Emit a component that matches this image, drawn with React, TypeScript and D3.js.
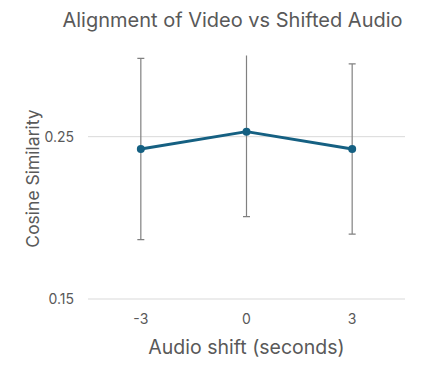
import React, { useEffect, useRef } from 'react';
import * as d3 from 'd3';

// chart data
const shifts = ['-3', '0', '3'];
const similarity = [0.2424, 0.2531, 0.2424];
const errors = [0.0558, 0.0524, 0.0524];
const yTicks = [0.15, 0.25];

const App = () => {
  const ref = useRef(null);

  useEffect(() => {
    const width = 423;
    const height = 380;
    const margin = { top: 55.5, right: 18, bottom: 81, left: 88 };
    const innerW = width - margin.left - margin.right;
    const innerH = height - margin.top - margin.bottom;

    const svg = d3.select(ref.current)
      .attr('width', width)
      .attr('height', height)
      .style('display', 'block')
      .style('position', 'absolute')
      .style('left', 0)
      .style('top', 0)
      .style('background', '#fff');
    svg.selectAll('*').remove();

    const font = 'Inter, "Open Sans", sans-serif';

    // title
    svg.append('text')
      .attr('x', 232.5)
      .attr('y', 27)
      .attr('text-anchor', 'middle')
      .style('font-family', font)
      .style('font-size', '20px')
      .style('fill', '#595959')
      .text('Alignment of Video vs Shifted Audio');

    const g = svg.append('g')
      .attr('transform', `translate(${margin.left},${margin.top})`);

    const x = d3.scaleBand().domain(shifts).range([0, innerW]);
    const y = d3.scaleLinear().domain([0.15, 0.3]).range([innerH, 0]);

    const defs = svg.append('defs');
    defs.append('clipPath').attr('id', 'plot-clip')
      .append('rect')
      .attr('x', -10).attr('y', 0)
      .attr('width', innerW + 20).attr('height', innerH);

    // gridlines
    g.selectAll('.grid')
      .data(yTicks)
      .enter()
      .append('line')
      .attr('x1', 0)
      .attr('x2', innerW)
      .attr('y1', d => y(d))
      .attr('y2', d => y(d))
      .attr('stroke', '#d9d9d9')
      .attr('stroke-width', 1);

    // y tick labels
    g.selectAll('.ytick')
      .data(yTicks)
      .enter()
      .append('text')
      .attr('x', -14)
      .attr('y', d => y(d))
      .attr('dy', '0.35em')
      .attr('text-anchor', 'end')
      .style('font-family', font)
      .style('font-size', '14px')
      .style('fill', '#595959')
      .text(d => d.toFixed(2));

    // x tick labels
    g.selectAll('.xtick')
      .data(shifts)
      .enter()
      .append('text')
      .attr('x', d => x(d) + x.bandwidth() / 2)
      .attr('y', innerH + 20.5)
      .attr('dy', '0.35em')
      .attr('text-anchor', 'middle')
      .style('font-family', font)
      .style('font-size', '14px')
      .style('fill', '#595959')
      .text(d => d);

    const cx = (i) => x(shifts[i]) + x.bandwidth() / 2;
    const idx = d3.range(shifts.length);

    // error bars
    const eb = g.append('g').attr('clip-path', 'url(#plot-clip)');
    eb.selectAll('.ebar')
      .data(idx)
      .enter()
      .append('line')
      .attr('x1', i => cx(i))
      .attr('x2', i => cx(i))
      .attr('y1', i => y(similarity[i] + errors[i]))
      .attr('y2', i => y(similarity[i] - errors[i]))
      .attr('stroke', '#808080')
      .attr('stroke-width', 1.2);
    [1, -1].forEach(sign => {
      eb.selectAll(sign > 0 ? '.cap-top' : '.cap-bottom')
        .data(idx)
        .enter()
        .append('line')
        .attr('x1', i => cx(i) - 3.5)
        .attr('x2', i => cx(i) + 3.5)
        .attr('y1', i => y(similarity[i] + sign * errors[i]))
        .attr('y2', i => y(similarity[i] + sign * errors[i]))
        .attr('stroke', '#808080')
        .attr('stroke-width', 1.2);
    });

    // line
    const line = d3.line()
      .x(i => cx(i))
      .y(i => y(similarity[i]));
    g.append('path')
      .datum(idx)
      .attr('d', line)
      .attr('fill', 'none')
      .attr('stroke', '#156082')
      .attr('stroke-width', 3)
      .attr('stroke-linejoin', 'round');

    g.selectAll('.dot')
      .data(idx)
      .enter()
      .append('circle')
      .attr('cx', i => cx(i))
      .attr('cy', i => y(similarity[i]))
      .attr('r', 4)
      .attr('fill', '#156082');

    // axis titles
    svg.append('text')
      .attr('x', 246.5)
      .attr('y', 354)
      .attr('text-anchor', 'middle')
      .style('font-family', font)
      .style('font-size', '19.5px')
      .style('fill', '#595959')
      .text('Audio shift (seconds)');

    svg.append('text')
      .attr('transform', 'translate(39,178.5) rotate(-90)')
      .attr('text-anchor', 'middle')
      .style('font-family', font)
      .style('font-size', '17.5px')
      .style('fill', '#595959')
      .text('Cosine Similarity');
  }, []);

  return <svg ref={ref}></svg>;
};

export default App;
